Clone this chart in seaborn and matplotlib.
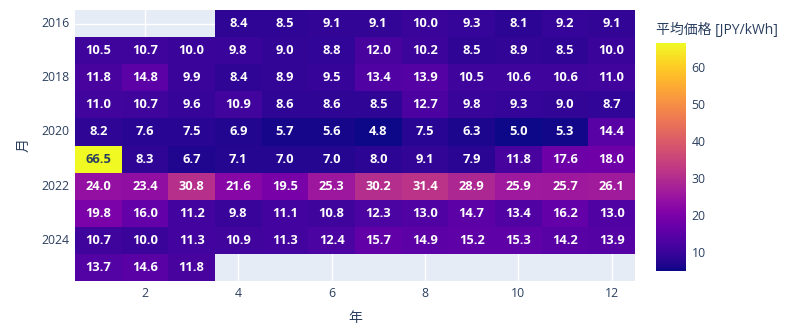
import numpy as np
import pandas as pd
import matplotlib
matplotlib.use("Agg")
import matplotlib.pyplot as plt
import seaborn as sns

years = [2016, 2017, 2018, 2019, 2020, 2021, 2022, 2023, 2024, 2025]
months = list(range(1, 13))
nan = np.nan
v2016 = [nan, nan, nan, 8.4, 8.5, 9.1, 9.1, 10.0, 9.3, 8.1, 9.2, 9.1]
v2017 = [10.5, 10.7, 10.0, 9.8, 9.0, 8.8, 12.0, 10.2, 8.5, 8.9, 8.5, 10.0]
v2018 = [11.8, 14.8, 9.9, 8.4, 8.9, 9.5, 13.4, 13.9, 10.5, 10.6, 10.6, 11.0]
v2019 = [11.0, 10.7, 9.6, 10.9, 8.6, 8.6, 8.5, 12.7, 9.8, 9.3, 9.0, 8.7]
v2020 = [8.2, 7.6, 7.5, 6.9, 5.7, 5.6, 4.8, 7.5, 6.3, 5.0, 5.3, 14.4]
v2021 = [66.5, 8.3, 6.7, 7.1, 7.0, 7.0, 8.0, 9.1, 7.9, 11.8, 17.6, 18.0]
v2022 = [24.0, 23.4, 30.8, 21.6, 19.5, 25.3, 30.2, 31.4, 28.9, 25.9, 25.7, 26.1]
v2023 = [19.8, 16.0, 11.2, 9.8, 11.1, 10.8, 12.3, 13.0, 14.7, 13.4, 16.2, 13.0]
v2024 = [10.7, 10.0, 11.3, 10.9, 11.3, 12.4, 15.7, 14.9, 15.2, 15.3, 14.2, 13.9]
v2025 = [13.7, 14.6, 11.8, nan, nan, nan, nan, nan, nan, nan, nan, nan]

x_ticks = [2, 4, 6, 8, 10, 12]
y_ticks = [2016, 2018, 2020, 2022, 2024]
cbar_ticks = [10, 20, 30, 40, 50, 60]

df = pd.DataFrame([v2016, v2017, v2018, v2019, v2020, v2021, v2022, v2023, v2024, v2025],
                  index=years, columns=months)

sns.set_style("white")
plt.rcParams['font.family'] = ['Open Sans', 'Noto Sans CJK JP', 'DejaVu Sans']
txt = '#2a3f5f'

fig = plt.figure(figsize=(8, 3.3), dpi=100)
ax = fig.add_axes([75/800, 49/330, 560/800, 271/330])
cax = fig.add_axes([656/800, 59/330, 30/800, 228/330])
ax.set_facecolor('#E5ECF6')

vmin = np.nanmin(df.values)
vmax = np.nanmax(df.values)
sns.heatmap(df, ax=ax, cmap='plasma', vmin=vmin, vmax=vmax, cbar_ax=cax,
            annot=False, linewidths=0)

# annotations
for i, y in enumerate(years):
    for j, m in enumerate(months):
        val = df.loc[y, m]
        if np.isnan(val):
            continue
        col = txt if (val - vmin) / (vmax - vmin) > 0.75 else 'white'
        ax.text(j + 0.5, i + 0.5, f"{val:.1f}", ha='center', va='center',
                color=col, fontsize=9.3, fontweight='bold')

ax.set_xticks([months.index(m) + 0.5 for m in x_ticks])
ax.set_xticklabels([str(m) for m in x_ticks])
ax.set_yticks([years.index(y) + 0.5 for y in y_ticks])
ax.set_yticklabels([str(y) for y in y_ticks], rotation=0)
ax.set_axisbelow(True)
ax.grid(True, color='white', linewidth=1)
ax.tick_params(length=0, colors=txt, labelsize=8.8, pad=4)
ax.set_xlabel('年', color=txt, fontsize=10, labelpad=8)
ax.set_ylabel('月', color=txt, fontsize=10, labelpad=7)
for s in ax.spines.values():
    s.set_visible(False)

cb = ax.collections[0].colorbar
cb.set_ticks(cbar_ticks)
cb.outline.set_visible(False)
cax.tick_params(length=0, colors=txt, labelsize=8.8, pad=4)
fig.text(656/800, 1 - 30/330, '平均価格 [JPY/kWh]', color=txt, fontsize=10,
         ha='left', va='center')

fig.savefig('out.png', dpi=100)
